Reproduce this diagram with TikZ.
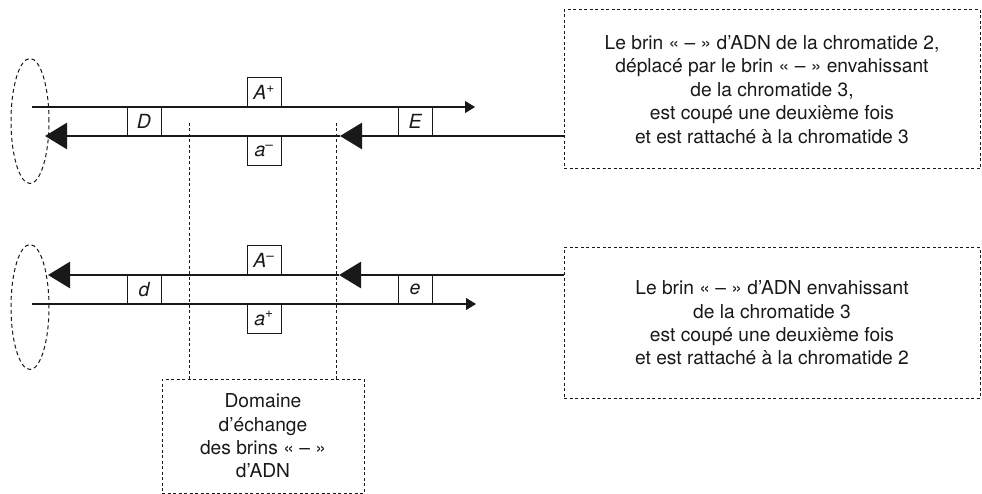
\documentclass[tikz,border=0pt]{standalone}
\usepackage{fontspec}
\setmainfont{TeX Gyre Heros}
\usetikzlibrary{arrows.meta,shapes.geometric}
\begin{document}
\begin{tikzpicture}[x=1pt,y=-1pt,
  lbl/.style={draw=black!90, line width=1pt, minimum width=34pt, minimum height=29pt, inner sep=0pt, font=\fontsize{19.5}{22}\selectfont\itshape, text=black!90},
  thinstrand/.style={line width=1.1pt, black!90, -{Triangle[length=10pt,width=12pt]}},
  thickstrand/.style={line width=2.7pt, black!90, -{Triangle[length=22pt,width=26pt]}},
  dsh/.style={dash pattern=on 3pt off 2.5pt, line width=1pt, black!90},
  note/.style={dsh, draw, align=center, inner sep=0pt, font=\fontsize{19.2}{23.4}\selectfont, text=black!90},
  loope/.style={ellipse, draw, dash pattern=on 4pt off 3pt, line width=1pt, black!90, inner sep=0pt, minimum width=38pt, minimum height=125pt}
]
\useasboundingbox (0,0) rectangle (982,494);

% loops
\node[loope] (e1) at (30,121) {};
\node[loope] (e2) at (30,307) {};

% text boxes
\node[note, minimum width=416pt, minimum height=159pt] (tb) at (772,89.5)
  {Le brin «~–~» d’ADN de la chromatide 2,\\ déplacé par le brin «~–~» envahissant\\ de la chromatide 3,\\ est coupé une deuxième fois\\ et est rattaché à la chromatide 3};
\node[note, minimum width=416pt, minimum height=150pt] (bb) at (772,323)
  {Le brin «~–~» d’ADN envahissant\\ de la chromatide 3\\ est coupé une deuxième fois\\ et est rattaché à la chromatide 2};
\node[note, minimum width=202pt, minimum height=114pt] (dom) at (263,436)
  {Domaine\\ d’échange\\ des brins «~–~»\\ d’ADN};

% label boxes, top pair
\node[lbl] (Ap) at (264,92.5) {A\textsuperscript{\upshape +}};
\node[lbl] (D) at (144,121.5) {D};
\node[lbl] (E) at (415,121.5) {E};
\node[lbl] (am) at (264,151) {a\textsuperscript{\upshape –}};

% label boxes, bottom pair
\node[lbl] (Am) at (264,260.5) {A\textsuperscript{\upshape –}};
\node[lbl] (d) at (144,289.5) {d};
\node[lbl] (e) at (415,289.5) {e};
\node[lbl] (ap) at (264,318.5) {a\textsuperscript{\upshape +}};

% top strands
\coordinate (t1s) at (32,107);
\coordinate (t1e) at (475,107);
\draw[thinstrand] (t1s) -- (t1e);
\coordinate (t2m) at (340,136);
\coordinate (t2e) at (45,136);
\draw[thickstrand] (tb.west |- t2m) -- (t2m);
\draw[thickstrand] (t2m) -- (t2e);

% bottom strands
\coordinate (b1m) at (339,275);
\coordinate (b1e) at (48,275);
\draw[thickstrand] (bb.west |- b1m) -- (b1m);
\draw[thickstrand] (b1m) -- (b1e);
\coordinate (b2s) at (32,304);
\coordinate (b2e) at (476,304);
\draw[thinstrand] (b2s) -- (b2e);

% exchange domain limits
\coordinate (v1) at (189,123);
\coordinate (v2) at (336,123);
\draw[dsh] (v1) -- (v1 |- dom.north);
\draw[dsh] (v2) -- (v2 |- dom.north);
\end{tikzpicture}
\end{document}
